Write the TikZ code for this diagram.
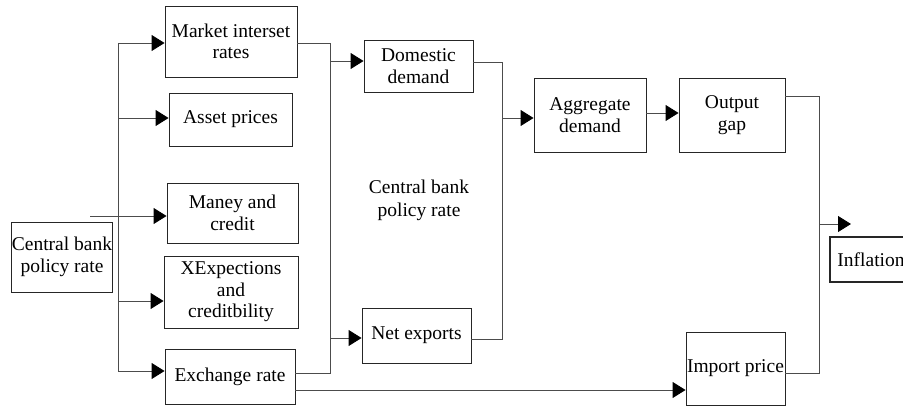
\documentclass[tikz,border=0pt]{standalone}
\usepackage{fontspec}
\setmainfont{Liberation Serif}
\usetikzlibrary{arrows.meta}
\begin{document}
\begin{tikzpicture}
    [x=1pt, y=-1pt,
     chanBox/.style={rectangle,
                 draw=black!85,
                 line width=0.9pt,
                 align=center,
                 inner sep=0pt,
                 font=\fontsize{19.5}{21.5}\selectfont},
     link/.style={draw=black!70, line width=0.9pt},
     >={Triangle[length=13pt, width=16pt, black]}]

    \useasboundingbox (0,0) rectangle (903,406);

    \node[chanBox, minimum width=100pt, minimum height=70pt] (centralBank) at (62,257) {Central bank\\policy rate};

    \node[chanBox, minimum width=132pt, minimum height=71pt] (marketRates) at (231,41.5) {Market interset\\rates};
    \node[chanBox, minimum width=123pt, minimum height=53pt] (assetPrices) at (230.5,119.5) {Asset prices};
    \node[chanBox, minimum width=131pt, minimum height=60pt] (moneyCredit) at (232.5,213) {Maney and\\credit};
    \node[chanBox, minimum width=134pt, minimum height=72pt] (expectations) at (231,292) {XExpections\\and\\creditbility};
    \node[chanBox, minimum width=130pt, minimum height=55pt] (exchangeRate) at (230,376.5) {Exchange rate};

    \node[chanBox, minimum width=109pt, minimum height=52pt] (domesticDemand) at (418.5,66) {Domestic\\demand};
    \node[chanBox, minimum width=109pt, minimum height=55pt] (netExports) at (416.5,335.5) {Net exports};
    \node[align=center, font=\fontsize{19.5}{23}\selectfont] (policyText) at (419,200) {Central bank\\policy rate};

    \node[chanBox, minimum width=112pt, minimum height=74pt] (aggDemand) at (590,115) {Aggregate\\demand};
    \node[chanBox, minimum width=106pt, minimum height=74pt] (outputGap) at (732,115) {Output\\gap};
    \node[chanBox, minimum width=99pt, minimum height=73pt] (importPrice) at (735.5,368.5) {Import price};

    \node[chanBox, line width=2pt, minimum width=82pt, minimum height=45pt] (inflation) at (871,259.5) {Inflation};

    \coordinate (busA) at (118,0);
    \coordinate (busB) at (330,0);
    \coordinate (busC) at (502,0);
    \coordinate (busD) at (819,0);
    \coordinate (moneyStart) at (90,216);
    \coordinate (inflationArrow) at (851,224);

    % central bank to the channels
    \draw [link] ([yshift=-1.5pt]marketRates.west -| busA) -- ([yshift=5.5pt]exchangeRate.west -| busA);
    \draw [link, ->] ([yshift=-1.5pt]marketRates.west -| busA) to ([yshift=-1.5pt]marketRates.west);
    \draw [link, ->] ([yshift=1.5pt]assetPrices.west -| busA) to ([yshift=1.5pt]assetPrices.west);
    \draw [link, ->] (moneyStart) to (moneyStart -| moneyCredit.west);
    \draw [link, ->] ([yshift=-9pt]expectations.west -| busA) to ([yshift=-9pt]expectations.west);
    \draw [link, ->] ([yshift=5.5pt]exchangeRate.west -| busA) to ([yshift=5.5pt]exchangeRate.west);

    % channels to demand
    \draw [link] ([yshift=-1.5pt]marketRates.east) -| ([yshift=3.5pt]exchangeRate.east -| busB) -- ([yshift=3.5pt]exchangeRate.east);
    \draw [link, ->] ([yshift=5pt]domesticDemand.west -| busB) to ([yshift=5pt]domesticDemand.west);
    \draw [link, ->] ([yshift=-2.5pt]netExports.west -| busB) to ([yshift=-2.5pt]netExports.west);

    \draw [link] ([yshift=4pt]domesticDemand.east) -| ([yshift=-3.5pt]netExports.east -| busC) -- ([yshift=-3.5pt]netExports.east);
    \draw [link, ->] ([yshift=-3pt]aggDemand.west -| busC) to ([yshift=-3pt]aggDemand.west);
    \draw [link, ->] ([yshift=2pt]aggDemand.east) to ([yshift=2pt]aggDemand.east -| outputGap.west);

    % to inflation
    \draw [link, ->] ([yshift=-13.5pt]exchangeRate.east) to ([yshift=-13.5pt]exchangeRate.east -| importPrice.west);
    \draw [link] ([yshift=19pt]outputGap.east) -| ([yshift=-4.5pt]importPrice.east -| busD) -- ([yshift=-4.5pt]importPrice.east);
    \draw [link, ->] (inflationArrow -| busD) to (inflationArrow);

    %\draw [link, ->] (centralBank) to (moneyCredit);
\end{tikzpicture}
\end{document}
